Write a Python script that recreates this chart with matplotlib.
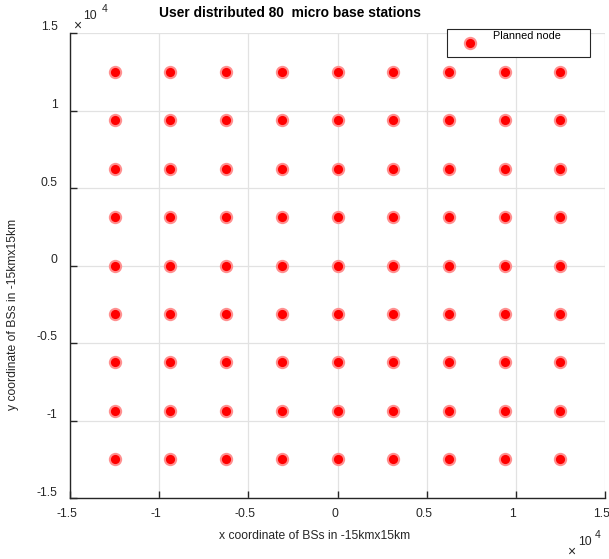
import numpy as np
import matplotlib
matplotlib.use("Agg")
import matplotlib.pyplot as plt
from matplotlib.patches import Rectangle
from matplotlib.transforms import ScaledTranslation

plt.rcParams['font.family'] = ['Liberation Sans', 'DejaVu Sans']

# Planned node grid (metres)
x_nodes = [-12500, -9375, -6250, -3125, 0, 3125, 6250, 9375, 12500]
y_nodes = [-12500, -9375, -6250, -3125, 0, 3125, 6250, 9375, 12500]
tick_values = [-15000, -10000, -5000, 0, 5000, 10000, 15000]
tick_labels = ['-1.5', '-1', '-0.5', '0', '0.5', '1', '1.5']

title_text = 'User distributed 80  micro base stations'
xlabel_text = 'x coordinate of BSs in -15kmx15km'
ylabel_text = 'y coordinate of BSs in -15kmx15km'
legend_text = 'Planned node'

W, H = 609, 559
fig = plt.figure(figsize=(W / 100, H / 100), dpi=100)
ax = fig.add_axes([70 / W, 1 - 498 / H, 535 / W, 465 / H])

gx, gy = np.meshgrid(x_nodes, y_nodes)
halo_color = '#ff9090'
dot_color = '#ff0000'
ax.plot(gx.ravel(), gy.ravel(), 'o', ms=9.6, color=halo_color, mec='none', zorder=3)
ax.plot(gx.ravel(), gy.ravel(), 'o', ms=6.6, color=dot_color, mec='none', zorder=4)

ax.set_xlim(-15000, 15000)
ax.set_ylim(-15000, 15000)
ax.set_xticks(tick_values)
ax.set_yticks(tick_values)
ax.set_xticklabels(tick_labels)
ax.set_yticklabels(tick_labels)

ax.grid(True, color='#e2e2e2', lw=0.9)
ax.set_axisbelow(True)
for side in ('top', 'right'):
    ax.spines[side].set_visible(False)
for side in ('left', 'bottom'):
    ax.spines[side].set_color('#262626')
    ax.spines[side].set_linewidth(1.0)

ax.tick_params(direction='in', length=5, width=1.0, color='#262626',
               labelsize=8.8, labelcolor='#262626')
ax.tick_params(axis='y', pad=9)
ax.tick_params(axis='x', pad=7)

# small offsets of tick label placement
for lab in ax.get_yticklabels():
    lab.set_transform(lab.get_transform() + ScaledTranslation(0, 7 / 100, fig.dpi_scale_trans))
for lab in ax.get_xticklabels():
    lab.set_transform(lab.get_transform() + ScaledTranslation(-3 / 100, 0, fig.dpi_scale_trans))

def px(x, y):
    return x / W, 1 - y / H

fig.text(*px(290, 13), title_text, ha='center', va='center',
         fontsize=9.9, fontweight='bold', color='black')
fig.text(*px(315, 536), xlabel_text, ha='center', va='center',
         fontsize=8.7, color='#262626')
fig.text(*px(13, 314), ylabel_text, ha='center', va='center', rotation=90,
         fontsize=8.7, color='#262626')

# exponent multipliers
for (xx, yx), (x10, y10), (x4, y4) in [((77, 26), (90, 16), (105, 9)),
                                       ((571, 552), (585, 542), (598, 535))]:
    fig.text(*px(xx, yx), '\u00d7', ha='center', va='center', fontsize=10, color='#262626')
    fig.text(*px(x10, y10), '10', ha='center', va='center', fontsize=8.8, color='#262626')
    fig.text(*px(x4, y4), '4', ha='center', va='center', fontsize=7.5, color='#262626')

# legend box
x0, y0 = px(447, 57)
x1, y1 = px(590, 29)
fig.patches.append(Rectangle((x0, y0), x1 - x0, y1 - y0, transform=fig.transFigure,
                             facecolor='white', edgecolor='#262626', lw=0.8, zorder=5))
lx, ly = px(470, 43)
fig.lines.append(plt.Line2D([lx], [ly], marker='o', ms=9.6, color=halo_color, mec='none',
                            transform=fig.transFigure, zorder=6))
fig.lines.append(plt.Line2D([lx], [ly], marker='o', ms=6.6, color=dot_color, mec='none',
                            transform=fig.transFigure, zorder=7))
fig.text(*px(493, 36), legend_text, ha='left', va='center', fontsize=7.8,
         color='black', zorder=8)

fig.savefig('out.png', dpi=100)
